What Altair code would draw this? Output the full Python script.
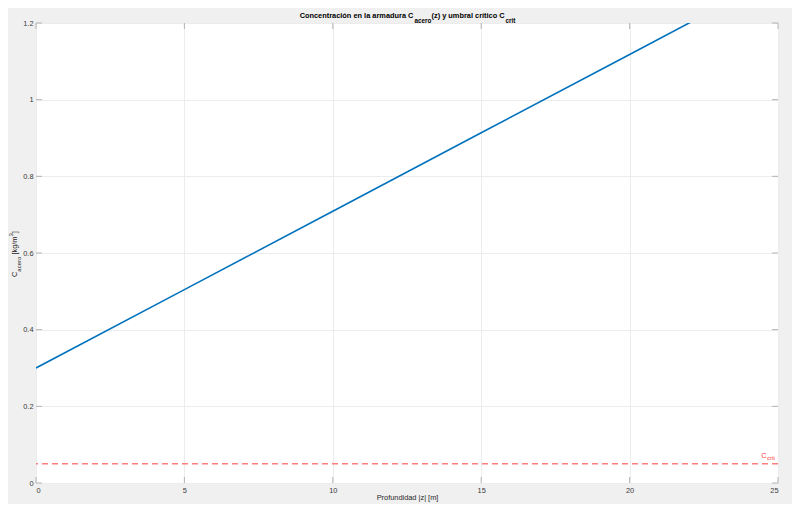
import altair as alt
import pandas as pd

# ---- data ----
z_vals = [0, 5, 10, 15, 20, 25]
c_acero = [0.30, 0.5045, 0.709, 0.9135, 1.118, 1.3225]
c_crit = [0.05]
x_ticks = [0, 5, 10, 15, 20, 25]
y_ticks = [0, 0.2, 0.4, 0.6, 0.8, 1.0, 1.2]

FONT = "Liberation Sans"
W, H = 742, 460
BOX = "#b4b4b4"
LAB = "#3a3a3a"
GRID = "#ececec"

xs = alt.Scale(domain=[0, 25], nice=False)
ys = alt.Scale(domain=[0, 1.2], nice=False)

x_axis = alt.Axis(values=x_ticks, title="Profundidad |z| [m]", grid=True, gridColor=GRID,
                  ticks=False, domain=False, labelFont=FONT, labelFontSize=7.4, labelColor=LAB,
                  labelPadding=3, titleFont=FONT, titleFontSize=7.4, titleFontWeight="normal",
                  titleColor="#262626", titlePadding=0)
y_axis = alt.Axis(values=y_ticks, title=None, grid=True, gridColor=GRID, format="~g",
                  ticks=False, domain=False, labelFont=FONT, labelFontSize=7.4, labelColor=LAB,
                  labelPadding=3)


def X(field):
    return alt.X(field, scale=xs, axis=x_axis, title="Profundidad |z| [m]")


def Y(field):
    return alt.Y(field, scale=ys, axis=y_axis, title=None)


line_df = pd.DataFrame({"z": z_vals, "c": c_acero})
crit_df = pd.DataFrame({"y": c_crit, "x": [25]})
xt_df = pd.DataFrame({"v": x_ticks})
yt_df = pd.DataFrame({"v": y_ticks})

line = alt.Chart(line_df).mark_line(color="#0072BD", strokeWidth=1.6, clip=True).encode(
    x=X("z:Q"), y=Y("c:Q"))

crit_line = alt.Chart(crit_df).mark_rule(color="#ff7f7f", strokeWidth=1.5, strokeDash=[6, 4]).encode(
    y=Y("y:Q"))

crit_C = alt.Chart(crit_df).mark_text(text="C", align="right", baseline="alphabetic", dx=-11.5, dy=-6.3,
                                      font=FONT, fontSize=7.4, color="#ff4040").encode(
    x=X("x:Q"), y=Y("y:Q"))
crit_sub = alt.Chart(crit_df).mark_text(text="crit", align="right", baseline="alphabetic", dx=-3, dy=-3.5,
                                        font=FONT, fontSize=6, color="#ff4040").encode(
    x=X("x:Q"), y=Y("y:Q"))

# inward ticks on all four sides
xt_bot = alt.Chart(xt_df).mark_rule(color=BOX, strokeWidth=1).encode(
    x=X("v:Q"), y=alt.value(H), y2=alt.value(H - 6))
xt_top = alt.Chart(xt_df).mark_rule(color=BOX, strokeWidth=1).encode(
    x=X("v:Q"), y=alt.value(0), y2=alt.value(6))
yt_left = alt.Chart(yt_df).mark_rule(color=BOX, strokeWidth=1).encode(
    y=Y("v:Q"), x=alt.value(0), x2=alt.value(6))
yt_right = alt.Chart(yt_df).mark_rule(color=BOX, strokeWidth=1).encode(
    y=Y("v:Q"), x=alt.value(W), x2=alt.value(W - 6))


def label(txt, x, y, size, weight="normal", align="left", angle=0, color="#262626"):
    return alt.Chart(pd.DataFrame({"t": [txt]})).mark_text(
        align=align, baseline="alphabetic", angle=angle, fontSize=size, fontWeight=weight,
        font=FONT, color=color).encode(x=alt.value(x), y=alt.value(y), text="t:N")


title_parts = [
    label("Concentración en la armadura C", 377.4, -4.8, 7.4, "bold", "right", color="#000000"),
    label("acero", 378.5, -0.4, 6.3, "bold", color="#000000"),
    label("(z) y umbral crítico C", 395.5, -4.8, 7.4, "bold", color="#000000"),
    label("crit", 469.5, -0.4, 6.3, "bold", color="#000000"),
]

ytitle_parts = [
    label("C", -19.3, 254, 7.4, angle=270),
    label("acero", -15.5, 248.7, 6, angle=270),
    label("[kg/m", -19.3, 231.6, 7.4, angle=270),
    label("3", -22.8, 213.5, 6, angle=270),
    label("]", -19.3, 210.2, 7.4, angle=270),
]

chart = alt.layer(
    line, crit_line, xt_bot, xt_top, yt_left, yt_right, crit_C, crit_sub,
    *title_parts, *ytitle_parts
).properties(
    width=W, height=H,
    autosize=alt.AutoSizeParams(type="none"),
    padding={"left": 28, "top": 15, "right": 14, "bottom": 21},
    background="#f0f0f0",
).configure_view(
    stroke=BOX, strokeWidth=1, fill="white"
)

chart.save("out.html", embed_options={"renderer": "svg", "actions": False})
